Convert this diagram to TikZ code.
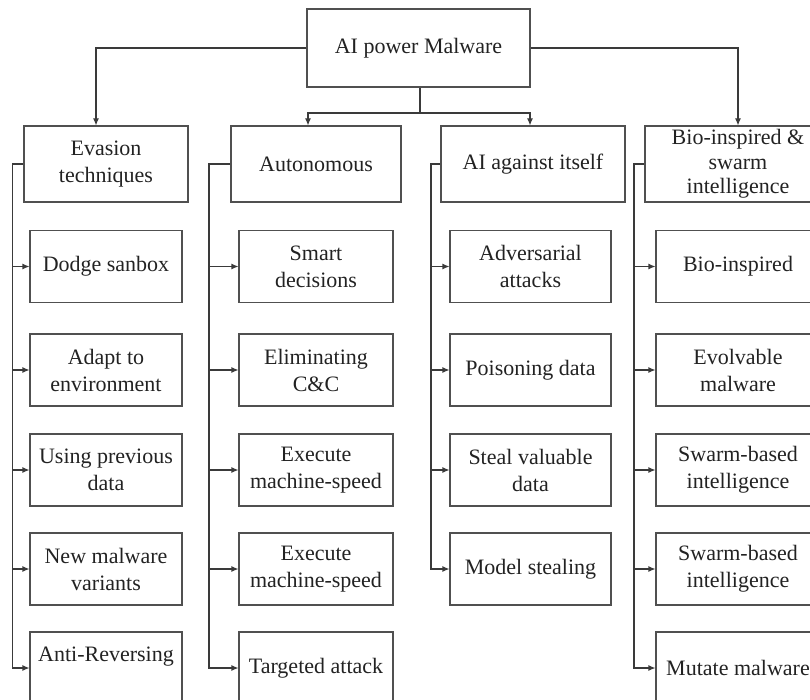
\documentclass[tikz,border=0pt]{standalone}
\usepackage{fontspec}
\setmainfont{Liberation Serif}
\usetikzlibrary{arrows.meta}
\definecolor{ln}{HTML}{3A3A3A}
\definecolor{bx}{HTML}{505050}
\definecolor{tx}{HTML}{222222}
\begin{document}
\begin{tikzpicture}[x=1pt,y=-1pt,
  box/.style={draw=bx,line width=1.1pt,rectangle,inner sep=0pt,align=center,text=tx,
    font=\fontsize{22}{27}\selectfont,minimum height=72pt},
  arr/.style={draw=ln,line width=1.1pt,-{Latex[length=7pt,width=6pt]}},
  con/.style={draw=ln,line width=1.1pt}]
\useasboundingbox (0,0) rectangle (810,700);
% root
\node[box,minimum width=223pt,minimum height=78pt] (root) at (418.5,48) {AI power Malware};
% level 1
\node[box,minimum width=164pt,minimum height=76pt] (ev) at (106,164) {Evasion\\techniques};
\node[box,minimum width=170pt,minimum height=76pt] (au) at (316,164) {Autonomous};
\node[box,minimum width=184pt,minimum height=76pt] (ai) at (533,164) {AI against itself};
\node[box,minimum width=186pt,minimum height=76pt,font=\fontsize{22}{24.5}\selectfont] (bi) at (738,164) {Bio-inspired \&\\swarm\\intelligence};
% column 1
\node[box,minimum width=152pt] (e1) at (106,266.5) {Dodge sanbox};
\node[box,minimum width=152pt] (e2) at (106,370) {Adapt to\\environment};
\node[box,minimum width=152pt] (e3) at (106,470) {Using previous\\data};
\node[box,minimum width=152pt] (e4) at (106,569) {New malware\\variants};
\node[box,minimum width=152pt] (e5) at (106,668) {Anti-Reversing\\\mbox{}};
% column 2
\node[box,minimum width=154pt] (a1) at (316,266.5) {Smart\\decisions};
\node[box,minimum width=154pt] (a2) at (316,370) {Eliminating\\C\&C};
\node[box,minimum width=154pt] (a3) at (316,470) {Execute\\machine-speed};
\node[box,minimum width=154pt] (a4) at (316,569) {Execute\\machine-speed};
\node[box,minimum width=154pt] (a5) at (316,668) {Targeted attack};
% column 3
\node[box,minimum width=161pt] (i1) at (530.5,266.5) {Adversarial\\attacks};
\node[box,minimum width=161pt] (i2) at (530.5,370) {Poisoning data};
\node[box,minimum width=161pt] (i3) at (530.5,470) {Steal valuable\\data};
\node[box,minimum width=161pt] (i4) at (530.5,569) {Model stealing};
% column 4
\node[box,minimum width=164pt] (b1) at (738,266.5) {Bio-inspired};
\node[box,minimum width=164pt] (b2) at (738,370) {Evolvable\\malware};
\node[box,minimum width=164pt] (b3) at (738,470) {Swarm-based\\intelligence};
\node[box,minimum width=164pt] (b4) at (738,569) {Swarm-based\\intelligence};
\node[box,minimum width=164pt] (b5) at (738,668) {Mutate malware};
% top connectors
\coordinate (j) at (420,113);
\draw[arr] (root.west) -| ([xshift=-10pt]ev.north);
\draw[arr] (root.east) -| (bi.north);
\draw[con] (root.south -| j) -- (j);
\draw[arr] (j) -| ([xshift=-8pt]au.north);
\draw[arr] (j) -| ([xshift=-3pt]ai.north);
% buses
\coordinate (x1) at (12.7,0);
\coordinate (x2) at (209,0);
\coordinate (x3) at (431,0);
\coordinate (x4) at (634,0);
\draw[arr] (ev.west) -| (x1 |- e5.west) -- (e5.west);
\foreach \n in {e1,e2,e3,e4} \draw[arr] (x1 |- \n.west) -- (\n.west);
\draw[arr] (au.west) -| (x2 |- a5.west) -- (a5.west);
\foreach \n in {a1,a2,a3,a4} \draw[arr] (x2 |- \n.west) -- (\n.west);
\draw[arr] (ai.west) -| (x3 |- i4.west) -- (i4.west);
\foreach \n in {i1,i2,i3} \draw[arr] (x3 |- \n.west) -- (\n.west);
\draw[arr] (bi.west) -| (x4 |- b5.west) -- (b5.west);
\foreach \n in {b1,b2,b3,b4} \draw[arr] (x4 |- \n.west) -- (\n.west);
\end{tikzpicture}
\end{document}
